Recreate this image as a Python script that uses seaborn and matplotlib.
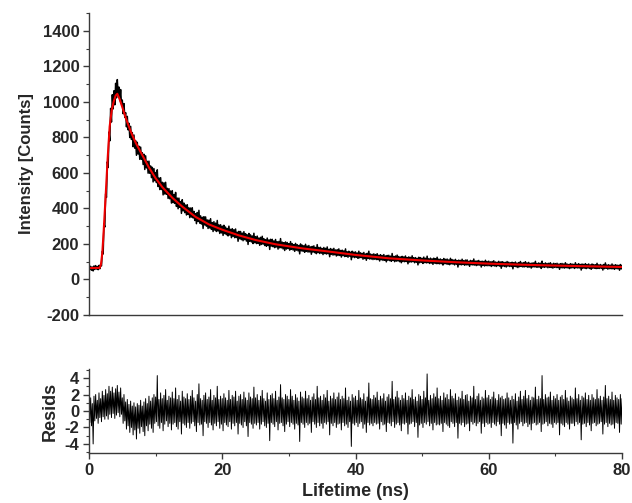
import numpy as np
import pandas as pd
import matplotlib
matplotlib.use("Agg")
import matplotlib.pyplot as plt
import seaborn as sns
from matplotlib.ticker import MultipleLocator

# ---------------- data ----------------
bin_ns = 0.25  # width of one time bin of the recorded trace

# upper / lower extent of the noisy measured decay in each time bin (counts)
intensity_upper = [
    72, 74, 70, 76, 78, 73, 79, 85, 158, 313,
    482, 662, 830, 963, 1040, 1062, 1104, 1125, 1083, 1069,
    1010, 990, 939, 918, 879, 862, 827, 813, 781, 772,
    750, 745, 713, 705, 696, 665, 666, 639, 631, 624,
    602, 617, 571, 573, 547, 544, 547, 513, 511, 498,
    500, 478, 490, 458, 458, 438, 449, 430, 419, 421,
    403, 402, 404, 383, 370, 377, 389, 358, 350, 353,
    352, 335, 334, 342, 320, 325, 317, 332, 307, 308,
    300, 305, 295, 287, 300, 282, 286, 280, 284, 266,
    271, 270, 261, 269, 258, 251, 259, 251, 245, 260,
    241, 244, 233, 237, 243, 229, 224, 233, 222, 226,
    226, 217, 225, 212, 214, 230, 210, 207, 211, 208,
    201, 213, 202, 196, 203, 196, 191, 200, 193, 190,
    198, 188, 191, 183, 186, 189, 180, 196, 180, 181,
    174, 180, 175, 183, 169, 174, 170, 175, 166, 168,
    172, 163, 165, 161, 172, 156, 159, 153, 159, 154,
    155, 149, 159, 150, 147, 152, 143, 147, 159, 143,
    141, 144, 140, 145, 136, 139, 135, 140, 132, 135,
    136, 131, 146, 129, 132, 137, 129, 126, 130, 127,
    132, 123, 127, 124, 133, 122, 123, 119, 125, 123,
    119, 126, 119, 131, 116, 120, 116, 120, 117, 125,
    114, 115, 111, 118, 113, 115, 110, 119, 112, 109,
    113, 106, 109, 107, 114, 106, 109, 110, 102, 107,
    105, 115, 103, 105, 107, 101, 103, 101, 108, 101,
    103, 99, 101, 105, 98, 97, 102, 98, 100, 97,
    96, 101, 97, 94, 97, 94, 98, 92, 95, 101,
    93, 95, 100, 93, 96, 90, 93, 93, 102, 90,
    93, 91, 103, 89, 93, 90, 91, 94, 87, 91,
    89, 91, 86, 89, 90, 87, 94, 87, 84, 89,
    87, 85, 94, 85, 89, 84, 87, 85, 89, 84,
    87, 82, 87, 84, 83, 91, 82, 84, 81, 84,
    93, 81, 83, 80, 87, 80, 83, 81, 79, 84, 80,
]
intensity_lower = [
    55, 52, 48, 56, 59, 55, 60, 76, 143, 295,
    462, 630, 780, 886, 960, 983, 1022, 1040, 1006, 988,
    933, 912, 859, 842, 799, 788, 747, 739, 699, 706,
    676, 676, 647, 619, 628, 598, 598, 573, 549, 556,
    545, 523, 506, 506, 476, 481, 479, 456, 454, 430,
    432, 428, 411, 398, 406, 372, 386, 376, 363, 366,
    348, 351, 346, 332, 314, 326, 317, 312, 287, 307,
    300, 287, 290, 282, 270, 278, 270, 273, 259, 262,
    248, 258, 252, 245, 250, 235, 242, 235, 236, 215,
    229, 224, 218, 224, 216, 197, 215, 211, 202, 207,
    202, 203, 192, 197, 199, 191, 187, 191, 169, 188,
    184, 179, 183, 171, 178, 178, 172, 163, 171, 174,
    165, 170, 166, 158, 165, 161, 144, 161, 158, 153,
    158, 154, 155, 142, 154, 151, 145, 151, 146, 148,
    140, 146, 143, 145, 128, 141, 137, 139, 132, 135,
    135, 126, 134, 129, 130, 125, 131, 111, 126, 123,
    125, 119, 122, 123, 114, 118, 108, 118, 115, 115,
    112, 114, 112, 112, 104, 111, 107, 108, 99, 108,
    106, 102, 107, 100, 103, 104, 100, 94, 101, 100,
    101, 88, 98, 98, 100, 94, 97, 82, 94, 96,
    90, 95, 93, 94, 90, 92, 85, 92, 89, 89,
    88, 89, 81, 89, 87, 85, 83, 88, 86, 82,
    86, 70, 84, 82, 84, 80, 82, 82, 74, 83,
    81, 81, 78, 80, 81, 70, 79, 76, 78, 77,
    78, 73, 77, 76, 73, 77, 75, 63, 75, 73,
    70, 75, 73, 73, 60, 74, 71, 67, 72, 73,
    70, 71, 72, 68, 70, 64, 70, 71, 69, 68,
    70, 62, 69, 68, 70, 66, 68, 67, 64, 68,
    67, 67, 57, 66, 65, 64, 66, 65, 61, 65,
    66, 62, 66, 64, 65, 53, 63, 64, 61, 64,
    62, 57, 63, 63, 61, 62, 62, 63, 53, 61,
    63, 58, 61, 60, 60, 57, 61, 60, 52, 59, 60,
]

# fitted decay (red curve)
fit_time = [0, 1.6, 1.8, 2.0, 2.2, 2.5, 2.8, 3.1, 3.4, 3.7, 4.0, 4.25, 4.6,
            5.0, 5.6, 6.3, 7.0, 8.0, 9.0, 10.0, 11.0, 12.5, 14.0, 16.0,
            18.0, 20.0, 22.5, 25.0, 28.0, 32.0, 36.0, 40.0, 45.0, 50.0,
            55.0, 60.0, 65.0, 70.0, 75.0, 80.0]
fit_counts = [64, 65, 85, 150, 270, 470, 680, 860, 950, 1000, 1035, 1045, 1015,
              970, 900, 830, 770, 700, 630, 570, 520, 460, 410, 352,
              310, 280, 248, 222, 198, 175, 157, 138, 119, 107,
              97, 89, 83, 78, 74, 70]

# upper / lower extent of the weighted residuals in each time bin
resid_upper = [
    1.2, 1.6, 0.9, 1.8, 2.0, 1.3, 2.2, 1.5, 2.4, 1.9,
    2.6, 2.1, 3.0, 2.4, 2.9, 2.2, 2.7, 3.1, 2.3, 2.8,
    1.6, 2.0, 1.1, 1.4, 0.8, 1.2, 0.6, 1.0, 0.5, 0.9,
    0.7, 1.3, 0.6, 1.1, 1.5, 0.9, 1.8, 1.2, 1.6, 2.0,
    1.7, 4.3, 1.4, 2.2, 1.5, 1.9, 2.6, 1.3, 1.8, 1.6,
    2.3, 1.5, 2.8, 1.4, 1.9, 1.2, 2.4, 1.7, 1.5, 2.1,
    1.4, 1.8, 2.5, 1.6, 1.2, 2.0, 3.3, 1.5, 1.3, 1.9,
    2.2, 1.4, 1.7, 2.6, 1.3, 1.9, 1.6, 3.0, 1.4, 1.8,
    1.5, 2.1, 1.6, 1.3, 2.5, 1.4, 1.9, 1.7, 2.4, 1.2,
    1.8, 2.0, 1.4, 2.3, 1.6, 1.3, 2.2, 1.7, 1.5, 2.9,
    1.6, 2.0, 1.3, 1.8, 2.5, 1.5, 1.2, 2.2, 1.4, 1.9,
    2.1, 1.5, 2.4, 1.3, 1.7, 3.2, 1.6, 1.4, 2.0, 1.8,
    1.4, 2.6, 1.8, 1.3, 2.0, 1.6, 1.2, 2.3, 1.7, 1.5,
    2.4, 1.5, 1.9, 1.3, 1.7, 2.1, 1.4, 3.0, 1.6, 1.8,
    1.3, 2.0, 1.6, 2.5, 1.2, 1.8, 1.5, 2.2, 1.4, 1.7,
    2.2, 1.4, 1.8, 1.5, 2.8, 1.3, 1.7, 1.2, 2.0, 1.6,
    1.8, 1.3, 2.5, 1.6, 1.4, 2.1, 1.2, 1.7, 3.4, 1.5,
    1.4, 1.9, 1.6, 2.3, 1.3, 1.8, 1.5, 2.1, 1.2, 1.7,
    2.0, 1.5, 3.6, 1.4, 1.7, 2.4, 1.6, 1.3, 1.9, 1.5,
    2.2, 1.3, 1.8, 1.6, 2.6, 1.4, 1.7, 1.2, 2.0, 1.8,
    1.4, 2.4, 1.6, 4.5, 1.3, 1.9, 1.5, 2.1, 1.7, 2.8,
    1.5, 1.8, 1.3, 2.2, 1.6, 2.0, 1.4, 2.6, 1.8, 1.5,
    2.1, 1.3, 1.7, 1.5, 2.4, 1.4, 1.9, 2.0, 1.2, 1.8,
    1.6, 3.0, 1.4, 1.8, 2.1, 1.3, 1.7, 1.5, 2.5, 1.6,
    1.9, 1.4, 1.7, 2.3, 1.5, 1.3, 2.0, 1.6, 1.8, 1.4,
    1.5, 2.2, 1.6, 1.3, 1.8, 1.4, 2.1, 1.2, 1.7, 2.4,
    1.4, 1.8, 2.5, 1.5, 1.9, 1.3, 1.7, 1.6, 2.9, 1.4,
    1.8, 1.5, 4.3, 1.4, 2.0, 1.6, 1.7, 2.3, 1.3, 1.8,
    1.5, 2.0, 1.3, 1.7, 1.9, 1.4, 2.5, 1.6, 1.2, 1.8,
    1.6, 1.4, 2.8, 1.5, 2.0, 1.3, 1.8, 1.6, 2.2, 1.4,
    1.9, 1.3, 2.0, 1.6, 1.4, 2.6, 1.5, 1.8, 1.3, 1.7,
    3.1, 1.5, 1.8, 1.4, 2.3, 1.3, 1.9, 1.6, 1.4, 2.0, 1.5,
]
resid_lower = [
    -1.4, -1.8, -4.0, -1.2, -0.9, -1.5, -0.8, -1.3, -0.7, -1.0,
    -0.6, -1.0, -0.4, -0.8, -0.3, -0.9, -0.5, -0.2, -0.7, -0.4,
    -1.5, -1.2, -2.2, -1.8, -2.6, -2.0, -2.9, -2.3, -3.4, -2.1,
    -2.7, -1.9, -2.5, -3.0, -1.8, -2.4, -1.6, -2.1, -2.6, -1.5,
    -1.3, -1.8, -2.1, -1.4, -2.4, -1.6, -1.2, -1.9, -1.5, -2.3,
    -1.6, -1.4, -1.9, -2.2, -1.3, -2.8, -1.5, -1.7, -2.0, -1.4,
    -2.1, -1.5, -1.3, -1.8, -2.5, -1.4, -1.7, -1.6, -3.0, -1.3,
    -1.5, -2.0, -1.4, -1.7, -2.3, -1.5, -1.8, -1.3, -2.1, -1.6,
    -2.4, -1.4, -1.7, -1.9, -1.3, -2.2, -1.5, -1.8, -1.4, -2.8,
    -1.5, -1.7, -2.0, -1.3, -1.8, -3.1, -1.4, -1.6, -2.1, -1.5,
    -1.7, -1.4, -2.2, -1.6, -1.3, -1.8, -2.0, -1.5, -3.6, -1.4,
    -1.6, -1.9, -1.3, -2.3, -1.5, -1.4, -1.8, -2.5, -1.6, -1.3,
    -1.9, -1.4, -1.6, -2.2, -1.5, -1.7, -3.7, -1.4, -1.6, -2.0,
    -1.4, -1.7, -1.5, -2.6, -1.3, -1.6, -2.0, -1.4, -1.8, -1.5,
    -2.1, -1.4, -1.6, -1.3, -2.9, -1.5, -1.8, -1.4, -2.0, -1.6,
    -1.5, -2.3, -1.4, -1.8, -1.6, -2.0, -1.3, -4.3, -1.5, -1.7,
    -1.4, -1.9, -1.5, -1.3, -2.1, -1.6, -2.6, -1.4, -1.7, -1.5,
    -1.8, -1.4, -1.6, -1.5, -2.2, -1.3, -1.7, -1.6, -2.5, -1.4,
    -1.5, -1.8, -1.3, -2.0, -1.6, -1.4, -1.7, -2.4, -1.5, -1.6,
    -1.4, -2.8, -1.6, -1.5, -1.3, -1.9, -1.4, -3.2, -1.7, -1.5,
    -2.0, -1.4, -1.6, -1.3, -1.8, -1.5, -2.3, -1.4, -1.7, -1.6,
    -1.7, -1.5, -2.5, -1.4, -1.6, -1.8, -2.0, -1.3, -1.5, -1.9,
    -1.4, -3.3, -1.5, -1.7, -1.4, -1.9, -1.6, -1.5, -2.4, -1.3,
    -1.6, -1.4, -1.8, -1.5, -1.3, -2.7, -1.5, -1.9, -1.4, -1.6,
    -1.5, -2.0, -1.4, -1.6, -1.8, -1.3, -1.6, -3.0, -1.5, -1.7,
    -2.1, -1.4, -1.6, -1.5, -3.9, -1.4, -1.7, -2.2, -1.5, -1.3,
    -1.8, -1.5, -1.4, -1.9, -1.6, -2.3, -1.5, -1.4, -1.7, -1.6,
    -1.4, -2.5, -1.6, -1.5, -1.3, -1.8, -1.5, -1.6, -2.0, -1.4,
    -1.6, -1.4, -2.9, -1.5, -1.7, -1.9, -1.4, -1.6, -2.2, -1.5,
    -1.5, -1.8, -1.3, -1.6, -1.4, -3.5, -1.6, -1.5, -1.9, -1.4,
    -1.7, -2.4, -1.5, -1.4, -1.8, -1.6, -1.5, -1.3, -2.8, -1.6,
    -1.4, -1.9, -1.5, -1.7, -1.6, -2.1, -1.4, -1.5, -2.6, -1.6, -1.5,
]

# ------------- arrange as a continuous noise trace (upper, lower, upper, ...) -------------
n_bins = len(intensity_upper)
bin_start = np.arange(n_bins) * bin_ns
trace_time = np.column_stack([bin_start, bin_start + bin_ns / 2]).ravel()
trace = pd.DataFrame({
    "Lifetime (ns)": trace_time,
    "Counts": np.column_stack([intensity_upper, intensity_lower]).ravel(),
    "Resids": np.column_stack([resid_upper, resid_lower]).ravel(),
})
fit = pd.DataFrame({"Lifetime (ns)": fit_time, "Counts": fit_counts})

# ---------------- figure ----------------
sns.set_theme(style="ticks")
plt.rcParams["font.family"] = ["Liberation Sans", "DejaVu Sans"]
plt.rcParams["font.weight"] = "bold"
plt.rcParams["axes.unicode_minus"] = False

fig = plt.figure(figsize=(6.32, 5.03), dpi=100)
ax1 = fig.add_axes([0.1408, 0.3738, 0.8434, 0.6004])
ax2 = fig.add_axes([0.1408, 0.0994, 0.8434, 0.1670])

spine_col = "#3a3a3a"

sns.lineplot(data=trace, x="Lifetime (ns)", y="Counts", ax=ax1, color="black",
             lw=1.1, estimator=None, sort=False)
sns.lineplot(data=fit, x="Lifetime (ns)", y="Counts", ax=ax1, color="#ee0000",
             lw=1.5, estimator=None, sort=False)
sns.lineplot(data=trace, x="Lifetime (ns)", y="Resids", ax=ax2, color="black",
             lw=0.7, estimator=None, sort=False)

for ax in (ax1, ax2):
    ax.set_xlim(0, 80)
    for s in ("top", "right"):
        ax.spines[s].set_visible(False)
    for s in ("left", "bottom"):
        ax.spines[s].set_color(spine_col)
        ax.spines[s].set_linewidth(1.0)
    ax.tick_params(axis="both", which="major", direction="out", length=4,
                   width=1.0, color=spine_col, labelsize=12, pad=3)
    ax.tick_params(axis="both", which="minor", direction="out", length=2.5,
                   width=0.8, color=spine_col)

ax1.set_yticks(np.arange(-200, 1401, 200))
ax1.yaxis.set_minor_locator(MultipleLocator(100))
ax1.set_ylim(-200, 1500)
ax1.tick_params(axis="x", which="both", bottom=False, labelbottom=False)
ax1.set_xlabel("")
ax1.set_ylabel("Intensity [Counts]", fontsize=12, fontweight="bold", labelpad=6)

ax2.set_yticks([-4, -2, 0, 2, 4])
ax2.yaxis.set_minor_locator(MultipleLocator(1))
ax2.set_ylim(-5.1, 5.1)
ax2.xaxis.set_major_locator(MultipleLocator(20))
ax2.xaxis.set_minor_locator(MultipleLocator(10))
ax2.set_xlabel("Lifetime (ns)", fontsize=13, fontweight="bold", labelpad=4)
ax2.set_ylabel("Resids", fontsize=13, fontweight="bold", labelpad=4)

for ax in (ax1, ax2):
    for lab in ax.get_xticklabels() + ax.get_yticklabels():
        lab.set_fontweight("bold")
        lab.set_fontsize(12)

fig.savefig("out.png", dpi=100)
